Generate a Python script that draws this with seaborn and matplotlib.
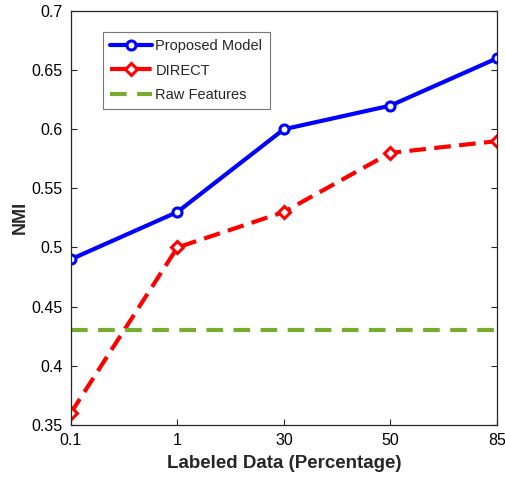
import pandas as pd
import matplotlib
matplotlib.use("Agg")
import matplotlib.pyplot as plt
import seaborn as sns

# data
x_labels = ['0.1', '1', '30', '50', '85']
proposed = [0.49, 0.53, 0.60, 0.62, 0.66]
direct = [0.36, 0.50, 0.53, 0.58, 0.59]
raw = [0.43, 0.43, 0.43, 0.43, 0.43]

pos = list(range(len(x_labels)))

sns.set_style("white")
plt.rcParams['font.family'] = ['Liberation Sans', 'DejaVu Sans']

fig = plt.figure(figsize=(5.06, 4.8), dpi=100)
ax = fig.add_axes([0.140, 0.115, 0.842, 0.862])

sns.lineplot(x=pos, y=proposed, ax=ax, color='#0000ff', linewidth=3,
             marker='o', markersize=6.5, markerfacecolor='white',
             markeredgecolor='#0000ff', markeredgewidth=2.2, label='Proposed Model')
sns.lineplot(x=pos, y=direct, ax=ax, color='#ff0000', linewidth=3,
             marker='D', markersize=6, markerfacecolor='white',
             markeredgecolor='#ff0000', markeredgewidth=2.2, label='DIRECT')
ax.lines[-1].set_dashes([4, 2])
sns.lineplot(x=pos, y=raw, ax=ax, color='#77ac30', linewidth=3, label='Raw Features')
ax.lines[-1].set_dashes([4, 2.5])

ax.set_xlim(0, 4)
ax.set_ylim(0.35, 0.7)
ax.set_xticks(pos)
ax.set_xticklabels(x_labels)
ax.set_yticks([0.35, 0.4, 0.45, 0.5, 0.55, 0.6, 0.65, 0.7])
ax.set_yticklabels(['0.35', '0.4', '0.45', '0.5', '0.55', '0.6', '0.65', '0.7'])
ax.tick_params(direction='in', length=4, width=0.8, labelsize=11.5, color='#262626',
               labelcolor='black', bottom=True, left=True, top=True, right=True, pad=6)
ax.tick_params(axis='x', top=False)
for s in ax.spines.values():
    s.set_color('#262626')
    s.set_linewidth(0.9)

ax.set_xlabel('Labeled Data (Percentage)', fontsize=13.5, fontweight='bold', labelpad=5)
ax.set_ylabel('NMI', fontsize=13, fontweight='bold', labelpad=2)

leg = ax.legend(loc='upper left', bbox_to_anchor=(0.075, 0.95), fontsize=10.5,
                frameon=True, fancybox=False, handlelength=2.9, borderpad=0.5,
                labelspacing=0.72, handletextpad=0.2, borderaxespad=0)
leg.get_frame().set_edgecolor('#555555')
leg.get_frame().set_linewidth(0.8)

fig.savefig('out.png', dpi=100)
